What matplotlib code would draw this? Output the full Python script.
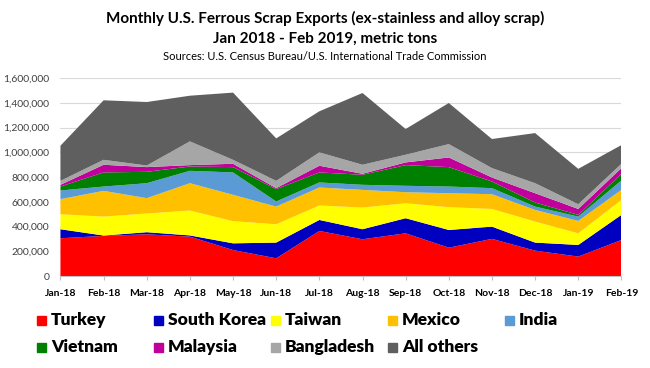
import numpy as np
import matplotlib
matplotlib.use("Agg")
import matplotlib.pyplot as plt
from matplotlib.patches import Rectangle

plt.rcParams['font.family'] = ['Lato', 'DejaVu Sans']

# monthly exports, metric tons
months = ['Jan-18', 'Feb-18', 'Mar-18', 'Apr-18', 'May-18', 'Jun-18', 'Jul-18',
          'Aug-18', 'Sep-18', 'Oct-18', 'Nov-18', 'Dec-18', 'Jan-19', 'Feb-19']
turkey = [305, 324, 337, 318, 210, 143, 364, 297, 345, 229, 300, 205, 157, 291]
south_korea = [73, 3, 17, 10, 54, 127, 89, 81, 122, 143, 99, 65, 94, 203]
taiwan = [121, 153, 151, 201, 179, 148, 117, 175, 121, 184, 143, 170, 94, 121]
mexico = [122, 208, 124, 221, 213, 143, 145, 143, 89, 113, 119, 94, 100, 81]
india = [70, 35, 121, 100, 181, 41, 41, 41, 52, 54, 49, 27, 35, 76]
vietnam = [32, 114, 92, 35, 43, 100, 81, 81, 167, 157, 54, 33, 14, 54]
malaysia = [14, 62, 38, 11, 27, 8, 54, 8, 22, 78, 32, 75, 48, 46]
bangladesh = [32, 40, 13, 192, 32, 59, 108, 73, 62, 108, 76, 81, 38, 35]
all_others = [284, 481, 513, 369, 543, 343, 332, 580, 208, 332, 235, 405, 286, 151]

countries = ['Turkey', 'South Korea', 'Taiwan', 'Mexico', 'India',
             'Vietnam', 'Malaysia', 'Bangladesh', 'All others']
colors = ['#FF0000', '#0000C0', '#FFFF00', '#FFC000', '#5B9BD5',
          '#008000', '#C0009A', '#A6A6A6', '#5F5F5F']
series = [turkey, south_korea, taiwan, mexico, india, vietnam, malaysia,
          bangladesh, all_others]
series = [np.array(s) * 1000 for s in series]

fig = plt.figure(figsize=(6.5, 3.68), dpi=100)
ax = fig.add_axes([0.093, 0.25, 0.863, 0.538])

x = np.arange(len(months))
ax.stackplot(x, *series, colors=colors, linewidth=0)

ax.set_xlim(0, len(months) - 1)
ax.set_ylim(0, 1600000)
ax.set_yticks(np.arange(0, 1600001, 200000))
ax.set_yticklabels(['{:,}'.format(v) for v in range(0, 1600001, 200000)],
                   fontsize=7.5, color='#404040')
ax.set_xticks(x)
ax.set_xticklabels(months, fontsize=7.5, fontweight='bold')
ax.yaxis.grid(True, color='#D9D9D9', linewidth=0.8)
ax.set_axisbelow(True)
for s in ['top', 'right', 'left']:
    ax.spines[s].set_visible(False)
ax.spines['bottom'].set_color('#BFBFBF')
ax.tick_params(axis='y', length=0, pad=8)
ax.tick_params(axis='x', length=3, color='#BFBFBF', pad=6)

fig.text(0.5, 1 - 18 / 368, 'Monthly U.S. Ferrous Scrap Exports (ex-stainless and alloy scrap)',
         ha='center', va='center', fontsize=11, fontweight='bold')
fig.text(0.5, 1 - 39 / 368, 'Jan 2018 - Feb 2019, metric tons',
         ha='center', va='center', fontsize=11, fontweight='bold')
fig.text(0.5, 1 - 57 / 368, 'Sources: U.S. Census Bureau/U.S. International Trade Commission',
         ha='center', va='center', fontsize=8)

# legend in two rows, fixed column spacing
for i, (name, c) in enumerate(zip(countries, colors)):
    row, col = divmod(i, 5)
    px = 37 + col * 117
    py = 320 + row * 27
    fig.add_artist(Rectangle((px / 650, 1 - (py + 4.5) / 368), 9 / 650, 9 / 368,
                             transform=fig.transFigure, color=c))
    fig.text((px + 14) / 650, 1 - py / 368, name, ha='left', va='center',
             fontsize=12.5, fontweight='heavy')

fig.savefig('out.png', dpi=100)
